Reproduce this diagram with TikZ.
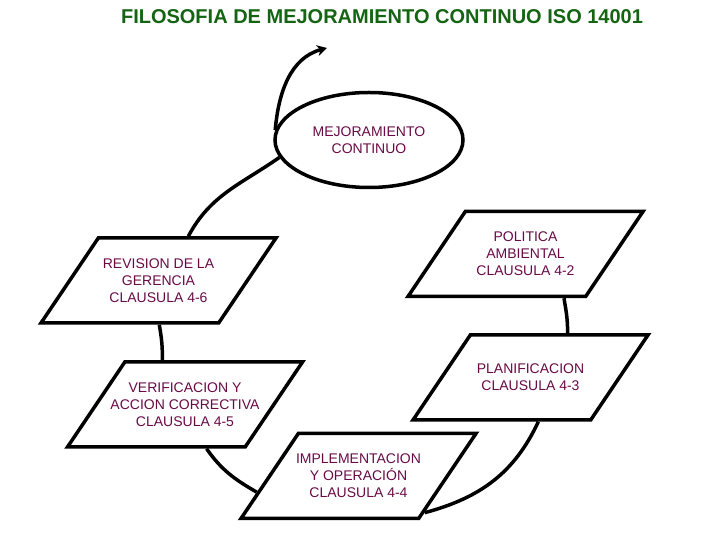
\documentclass[tikz,border=0pt]{standalone}
\usepackage{fontspec}
\setmainfont{Liberation Sans}
\usetikzlibrary{arrows.meta,shapes.geometric}
\definecolor{titleGreen}{RGB}{20,100,20}
\definecolor{labelPlum}{RGB}{105,10,70}

\begin{document}
\begin{tikzpicture}[x=1pt,y=1pt,
  para/.style={trapezium,trapezium left angle=56,trapezium right angle=124,
               trapezium stretches body,draw,line width=3.5pt,minimum width=235pt,
               inner xsep=0pt,inner ysep=42.5pt,
               label={[align=center,text=labelPlum,font=\fontsize{14}{17}\selectfont]center:#1}},
  link/.style={line width=3.5pt}]
  \useasboundingbox (0,0) rectangle (720,540);
  \node[font=\fontsize{20}{24}\selectfont\bfseries,text=titleGreen] (title) at (382,523)
    {FILOSOFIA DE MEJORAMIENTO CONTINUO ISO 14001};
  \node[ellipse,draw,line width=3.5pt,minimum width=188pt,minimum height=95pt,inner sep=0pt,
        align=center,text=labelPlum,font=\fontsize{14}{17}\selectfont] (mejora) at (369,400)
    {MEJORAMIENTO\\CONTINUO};
  \node[para={POLITICA\\AMBIENTAL\\CLAUSULA 4-2}] (politica) at (525.5,286) {};
  \node[para={PLANIFICACION\\CLAUSULA 4-3}] (planif) at (530.5,162.5) {};
  \node[para={IMPLEMENTACION\\Y OPERACIÓN\\CLAUSULA 4-4}] (implem) at (358.5,64) {};
  \node[para={VERIFICACION Y\\ACCION CORRECTIVA\\CLAUSULA 4-5}] (verif) at (185,135.5) {};
  \node[para={REVISION DE LA\\GERENCIA\\CLAUSULA 4-6}] (revision) at (158.5,259.5) {};
  \coordinate (tip) at (327,492);
  % the loop round the cycle
  \draw[link,-{Stealth[length=10pt,width=11pt]}] (mejora.174) to[out=85,in=195] (tip);
  \draw[link] (mejora.191) to[out=215,in=62] (revision.56);
  \draw[link] (revision.-89) to[bend left=5] (verif.117);
  \draw[link] (verif.-64) to[out=-55,in=150] (implem.189);
  \draw[link] (implem.-29) to[out=15,in=-115] (planif.-80);
  \draw[link] (politica.-49) to[out=-80,in=90] (planif.50);
\end{tikzpicture}
\end{document}
